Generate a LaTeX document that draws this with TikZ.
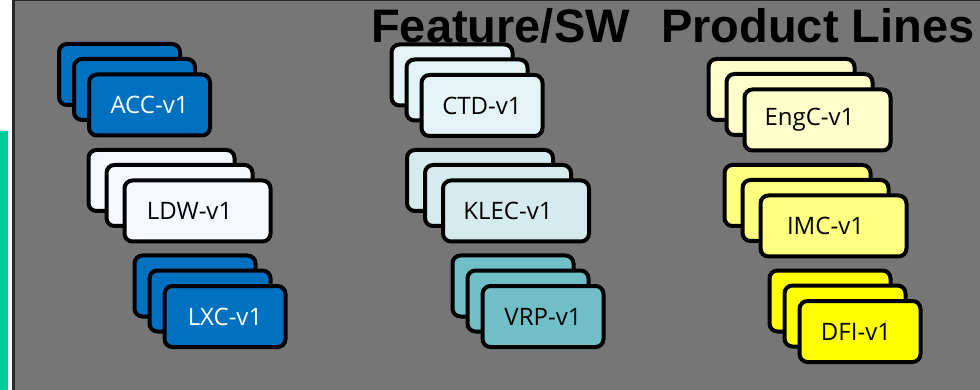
\documentclass[tikz,border=0pt]{standalone}
\usepackage{fontspec}
\setmainfont{Liberation Sans}
\newfontfamily\cardfont{Open Sans}
\usepackage{tikz}
\usetikzlibrary{calc}
\definecolor{slidegray}{HTML}{767676}
\definecolor{edgedark}{HTML}{2A2A2A}
\definecolor{accent}{HTML}{00CC99}
\definecolor{featblue}{HTML}{0070C0}
\definecolor{featwhite}{HTML}{F5F9FB}
\definecolor{swpale}{HTML}{E4F3F5}
\definecolor{swlight}{HTML}{D6EBEE}
\definecolor{swteal}{HTML}{70BFC6}
\definecolor{plpale}{HTML}{FFFFCC}
\definecolor{pllight}{HTML}{FFFF80}
\definecolor{plyellow}{HTML}{FFFF00}
\tikzset{
  card/.style={draw=black,line width=4pt,rounded corners=8pt,minimum height=61pt,
               inner sep=0pt,font=\cardfont\fontsize{24}{28}\selectfont},
  small/.style={card,minimum width=121pt},
  wide/.style={card,minimum width=146pt},
  bluecard/.style={fill=featblue,text=white},
  titletext/.style={font=\bfseries\fontsize{47}{52}\selectfont,anchor=base west,inner sep=0pt},
}
% three cards of one stack: name, style, back centre x, y, step x, label
\newcommand{\cardstack}[6]{
  \node[#2] (#1-back) at (#3,#4) {};
  \node[#2] (#1-mid) at ($(#1-back)+(#5,15)$) {};
  \node[#2] (#1) at ($(#1-mid)+(#5,15.5)$) {#6};
}
\newcommand{\lefttext}{\hspace*{-16pt}}
\begin{document}
\begin{tikzpicture}[x=1pt,y=-1pt]
  \useasboundingbox (0,0) rectangle (980,390);
  \fill[white] (0,0) rectangle (980,390);
  \fill[accent] (0,131) rectangle (8,390);
  \fill[slidegray] (12,0) rectangle (980,390);
  \fill[edgedark] (12,0) rectangle (15,390);
  \fill[edgedark] (12,0) rectangle (980,1.5);

  \node[titletext] (feat) at (371,43) {Feature/SW};
  \node[titletext] (pl) at (661,43) {Product Lines};

  % features
  \cardstack{acc}{small,bluecard}{119.5}{74.5}{15}{ACC-v1}
  \cardstack{ldw}{wide,fill=featwhite}{161.5}{180.5}{18}{\lefttext LDW-v1}
  \cardstack{lxc}{small,bluecard}{195}{286}{15}{LXC-v1}
  % software
  \cardstack{ctd}{small,fill=swpale}{452}{75}{15}{CTD-v1}
  \cardstack{klec}{wide,fill=swlight}{480}{180.5}{18}{\lefttext KLEC-v1}
  \cardstack{vrp}{small,fill=swteal}{513}{286}{15}{VRP-v1}
  % product lines
  \cardstack{engc}{wide,fill=plpale}{781.5}{89.5}{18}{\lefttext EngC-v1}
  \cardstack{imc}{wide,fill=pllight}{797.5}{195.5}{18}{\lefttext IMC-v1}
  \cardstack{dfi}{small,fill=plyellow}{830}{301}{15}{\hspace*{-8pt}DFI-v1}
\end{tikzpicture}
\end{document}
